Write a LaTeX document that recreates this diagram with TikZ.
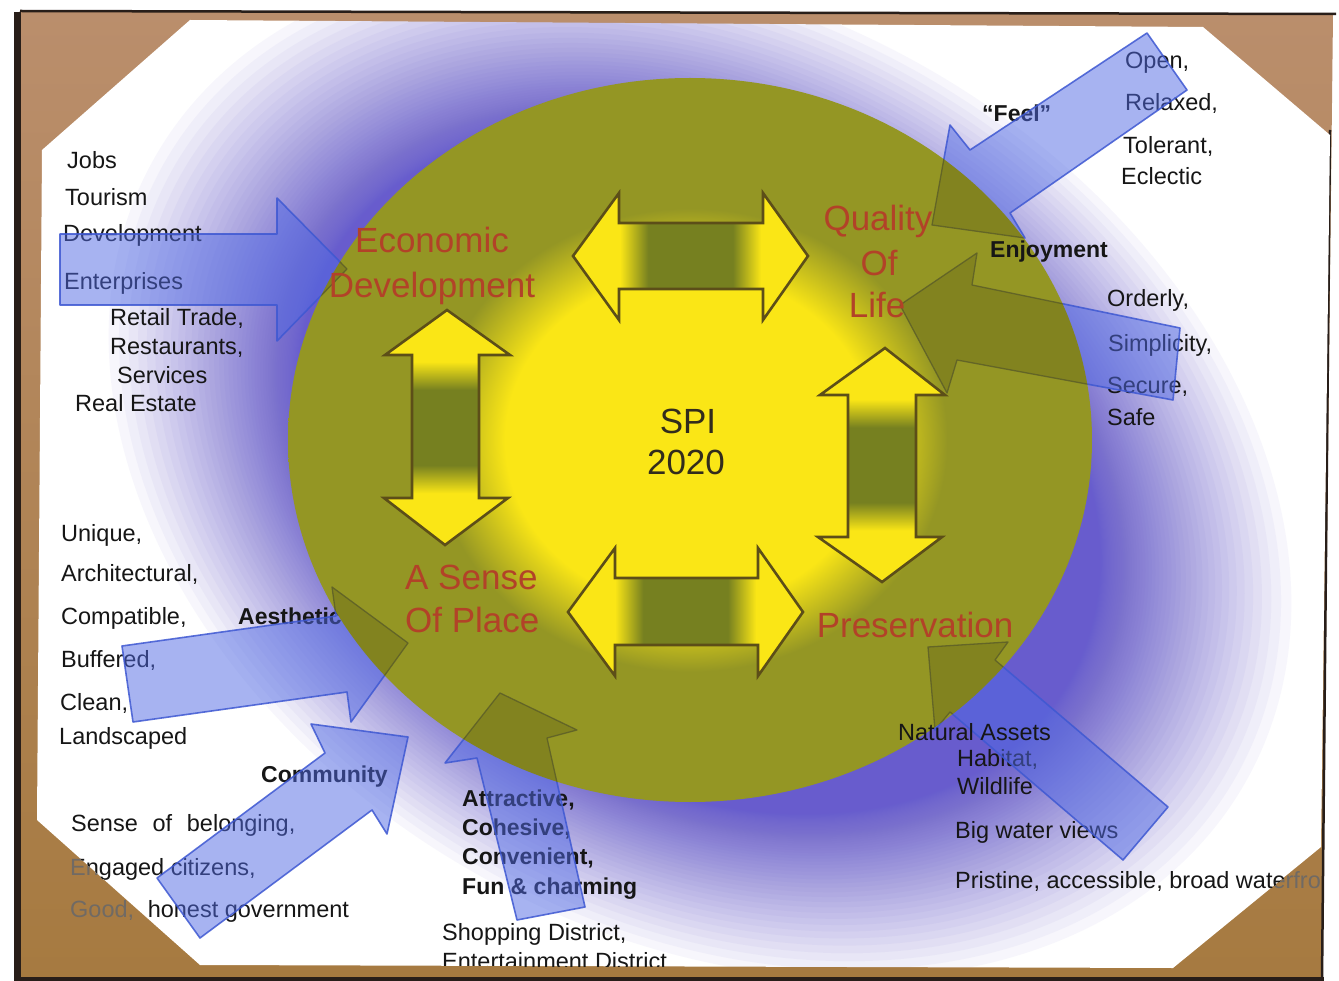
\documentclass[tikz,border=0pt]{standalone}
\usepackage{fontspec}
\setmainfont{Liberation Sans}

\definecolor{frameA}{RGB}{186,142,108}
\definecolor{frameB}{RGB}{166,122,64}
\definecolor{frameline}{RGB}{40,30,25}
\definecolor{haze}{RGB}{104,92,205}
\definecolor{olive}{RGB}{148,150,36}
\definecolor{sun}{RGB}{250,230,22}
\definecolor{band}{RGB}{118,128,32}
\definecolor{rim}{RGB}{92,78,24}
\definecolor{flow}{RGB}{80,105,228}
\definecolor{flowline}{RGB}{62,88,210}
\definecolor{innerline}{RGB}{90,92,40}
\definecolor{label}{RGB}{178,66,40}
\definecolor{ink}{RGB}{22,22,22}
\definecolor{faded}{RGB}{112,106,100}
\definecolor{core}{RGB}{50,44,28}

% olive disc with a bright yellow core
\pgfdeclareradialshading{glow}{\pgfpoint{0bp}{0bp}}{%
  color(0bp)=(sun); color(11.5bp)=(sun); color(13.5bp)=(sun!55!olive);
  color(16bp)=(olive); color(50bp)=(olive)}
% yellow double arrows with a darker band across the middle of the shaft
\pgfdeclarehorizontalshading{bandh}{100bp}{%
  color(0bp)=(sun); color(35bp)=(sun); color(41bp)=(band);
  color(59bp)=(band); color(65bp)=(sun); color(100bp)=(sun)}
\pgfdeclareverticalshading{bandv}{100bp}{%
  color(0bp)=(sun); color(36bp)=(sun); color(42bp)=(band);
  color(58bp)=(band); color(64bp)=(sun); color(100bp)=(sun)}

% outlines of the blue arrows pointing into the disc
\newcommand\flowEcon{(60,234) -- (277,234) -- (277,198) -- (347,269) -- (277,341) -- (277,305) -- (60,305) -- cycle}
\newcommand\flowFeel{(1147,33) -- (1187,90) -- (1010,213) -- (1025,238) -- (932,225) -- (950,125) -- (970,150) -- cycle}
\newcommand\flowJoy{(1180,328) -- (1173,400) -- (957,360) -- (947,393) -- (900,305) -- (977,253) -- (972,285) -- cycle}
\newcommand\flowNature{(1168,807) -- (1123,860) -- (950,712) -- (935,730) -- (928,647) -- (1008,642) -- (995,660) -- cycle}
\newcommand\flowLook{(122,646) -- (336,616) -- (332,587) -- (408,643) -- (351,722) -- (347,692) -- (133,722) -- cycle}
\newcommand\flowPeople{(157,878) -- (325,753) -- (311,724) -- (408,737) -- (387,834) -- (372,810) -- (200,938) -- cycle}
\newcommand\flowTown{(517,920) -- (477,758) -- (445,763) -- (500,693) -- (577,730) -- (547,738) -- (585,907) -- cycle}

\newcommand\discpath{(690,440) ellipse [x radius=402, y radius=362]}
\newcommand\slidepath{(190,20) -- (1203,27) -- (1330,135) -- (1321,847) -- (1173,968) -- (200,965) -- (37,820) -- (42,150) -- cycle}

\begin{document}
\begin{tikzpicture}[x=1pt,y=-1pt,
  txt/.style={anchor=base west, inner sep=0pt, text=ink, font=\fontsize{23.5}{28}\selectfont},
  txtb/.style={anchor=base west, inner sep=0pt, text=ink, font=\fontsize{23}{28}\selectfont\bfseries},
  lbl/.style={anchor=base, inner sep=0pt, text=label, font=\fontsize{35}{42}\selectfont},
  lblw/.style={lbl, anchor=base west},
  hub/.style={anchor=base, inner sep=0pt, text=core, font=\fontsize{35}{42}\selectfont},
  flowarrow/.style={fill=flow, fill opacity=0.5, draw=flowline, draw opacity=0.85, line width=1.6, line join=round},
  flowshadow/.style={fill=black, fill opacity=0.12, draw=innerline, draw opacity=0.8, line width=1.3, line join=round},
  dblarrow/.style={draw=rim, line width=2.6, line join=miter}]

\useasboundingbox (0,0) rectangle (1339,981);
\fill[white] (0,0) rectangle (1339,981);

% mount board behind the slide
\shade[top color=frameA, bottom color=frameB] (20,11) -- (1333,14) -- (1322,981) -- (18,981) -- cycle;

% words running past the slide edge show dimly on the board
\begin{scope}
\clip (20,14) -- (1330,16) -- (1320,976) -- (20,976) -- cycle;
\node[txt, text=faded] (engageB) at (70,875) {Engaged citizens,};
\node[txt, text=faded] (governB) at (70,917) {Good,\hspace{0.3em} honest government};
\node[txt, text=faded] (shoreB) at (955,888) {Pristine, accessible, broad waterfront};
\end{scope}

\draw[frameline, line width=2.5] (20,11) -- (1336,14);
\draw[frameline, line width=7] (17,12) -- (17,981);
\draw[frameline, line width=5] (17,979) -- (1324,979);
\draw[frameline, line width=2.5] (1330,130) -- (1322,981);

\begin{scope}
\clip \slidepath;
\fill[white] (0,0) rectangle (1339,981);

% halo around the disc: stacked translucent ellipses, tilted
\foreach \k in {1,...,60}{
  \pgfmathsetmacro\f{1-0.36*(1-0.95^\k)}
  \fill[haze, fill opacity=0.05, rotate around={-30:(700,470)}]
    (700,470) ellipse [x radius=640*\f, y radius=470*\f];
}

% surrounding words
\node[txt] (jobs) at (67,169) {Jobs};
\node[txt] (tourism) at (65,206) {Tourism};
\node[txt] (devel) at (63,242) {Development};
\node[txt] (enterp) at (64,290) {Enterprises};
\node[txt] (retail) at (110,326) {Retail Trade,};
\node[txt] (restau) at (110,355) {Restaurants,};
\node[txt] (servic) at (117,384) {Services};
\node[txt] (estate) at (75,412) {Real Estate};

\node[txtb] (feel) at (982,122) {“Feel”};
\node[txt] (open) at (1125,69) {Open,};
\node[txt] (relax) at (1125,111) {Relaxed,};
\node[txt] (toler) at (1123,154) {Tolerant,};
\node[txt] (eclec) at (1121,185) {Eclectic};
\node[txt] (order) at (1107,307) {Orderly,};
\node[txt] (simpl) at (1108,352) {Simplicity,};
\node[txt] (secure) at (1107,394) {Secure,};
\node[txt] (safe) at (1107,426) {Safe};

\node[txt] (unique) at (61,541) {Unique,};
\node[txt] (archi) at (61,581) {Architectural,};
\node[txt] (compat) at (61,624) {Compatible,};
\node[txtb] (aesth) at (238,624) {Aesthetic};
\node[txt] (buffer) at (61,667) {Buffered,};
\node[txt] (clean) at (60,710) {Clean,};
\node[txt] (landsc) at (59,744) {Landscaped};
\node[txtb] (commun) at (261,782) {Community};
\node[txt] (belong) at (71,831) {Sense\hspace{0.35em} of\hspace{0.35em} belonging,};
\node[txt] (engage) at (70,875) {Engaged citizens,};
\node[txt] (govern) at (70,917) {Good,\hspace{0.3em} honest government};

\node[txtb] (attr) at (462,806) {Attractive,};
\node[txtb] (cohes) at (462,835) {Cohesive,};
\node[txtb] (conv) at (462,864) {Convenient,};
\node[txtb] (fun) at (462,894) {Fun \& charming};
\node[txt] (shop) at (442,940) {Shopping District,};
\node[txt] (enter) at (442,969) {Entertainment District};

\node[txt] (habit) at (957,766) {Habitat,};
\node[txt] (wild) at (957,794) {Wildlife};
\node[txt] (views) at (955,838) {Big water views};
\node[txt] (shore) at (955,888) {Pristine, accessible, broad waterfront};

% blue arrows
\path[flowarrow] \flowEcon;
\path[flowarrow] \flowFeel;
\path[flowarrow] \flowJoy;
\path[flowarrow] \flowNature;
\path[flowarrow] \flowLook;
\path[flowarrow] \flowPeople;
\path[flowarrow] \flowTown;

% the disc
\shade[shading=glow] \discpath;

% arrow tips showing faintly through the disc
\begin{scope}
  \clip \discpath;
  \path[flowshadow] \flowEcon;
  \path[flowshadow] \flowFeel;
  \path[flowshadow] \flowJoy;
  \path[flowshadow] \flowNature;
  \path[flowshadow] \flowLook;
  \path[flowshadow] \flowPeople;
  \path[flowshadow] \flowTown;
\end{scope}

% four yellow double arrows
\shade[shading=bandh, dblarrow] (573,256) -- (619,193) -- (619,223) -- (763,223) -- (763,193) -- (808,256)
  -- (763,320) -- (763,289) -- (619,289) -- (619,320) -- cycle;
\shade[shading=bandh, dblarrow] (568,612) -- (615,548) -- (615,578) -- (758,578) -- (758,548) -- (803,612)
  -- (758,676) -- (758,645) -- (615,645) -- (615,676) -- cycle;
\shade[shading=bandv, dblarrow] (447,310) -- (510,355) -- (479,355) -- (479,498) -- (508,498) -- (445,545)
  -- (384,498) -- (412,498) -- (412,355) -- (385,355) -- cycle;
\shade[shading=bandv, dblarrow] (885,348) -- (945,395) -- (916,395) -- (916,537) -- (942,537) -- (882,582)
  -- (818,537) -- (848,537) -- (848,395) -- (820,395) -- cycle;

% labels on the disc
\node[lbl] (econ1) at (432,252.5) {Economic};
\node[lbl] (econ2) at (432,297.5) {Development};
\node[lbl] (qual1) at (878,230.5) {Quality};
\node[lbl] (qual2) at (879,275.5) {Of};
\node[lbl] (qual3) at (877,317.5) {Life};
\node[lblw] (place1) at (405,589.5) {A Sense};
\node[lblw] (place2) at (405,632.5) {Of Place};
\node[lbl] (preserve) at (915,637.5) {Preservation};
\node[hub] (spi) at (688,433.5) {SPI};
\node[hub] (year) at (686,474.5) {2020};

\node[txtb] (enjoy) at (990,258) {Enjoyment};
\node[txt] (natural) at (898,740) {Natural Assets};
\end{scope}
\end{tikzpicture}
\end{document}
